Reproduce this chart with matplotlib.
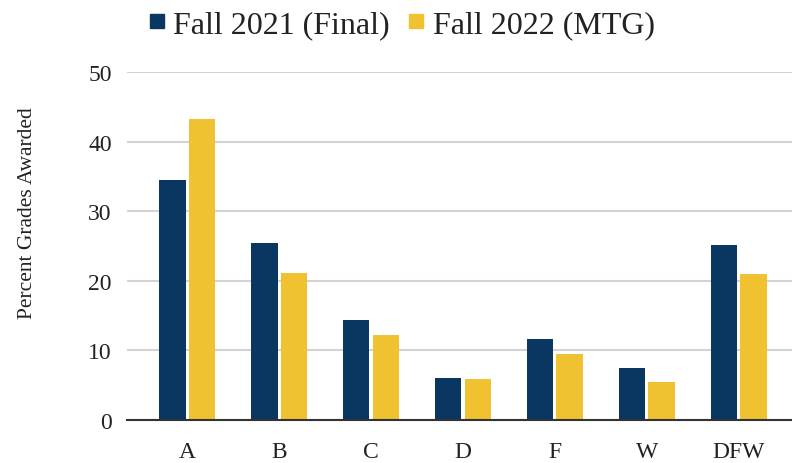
import numpy as np
import matplotlib.pyplot as plt
from matplotlib.lines import Line2D

# grade categories and percent of grades awarded
grades = ['A', 'B', 'C', 'D', 'F', 'W', 'DFW']
fall_2021 = [34.5, 25.4, 14.4, 6.1, 11.6, 7.5, 25.2]
fall_2022 = [43.2, 21.1, 12.2, 5.9, 9.5, 5.5, 21.0]
series_names = ['Fall 2021 (Final)', 'Fall 2022 (MTG)']
yticks = [0, 10, 20, 30, 40, 50]

NAVY = '#0a3761'
GOLD = '#f0c232'

plt.rcParams['font.family'] = ['Liberation Serif', 'DejaVu Serif']

fig = plt.figure(figsize=(7.92, 4.64), dpi=100)
ax = fig.add_axes([0.1604, 0.0927, 0.8396, 0.75])

x = np.arange(len(grades))
w = 0.287
off = 0.161
ax.bar(x - off, fall_2021, width=w, color=NAVY, zorder=3)
ax.bar(x + off, fall_2022, width=w, color=GOLD, zorder=3)

ax.set_xlim(-0.655, 6.58)
ax.set_ylim(0, 50)
ax.set_yticks(yticks)
ax.set_xticks(x)
ax.set_xticklabels(grades, fontsize=17, color='#222222')
ax.tick_params(axis='y', labelsize=17, length=0, pad=11, labelcolor='#222222')
ax.tick_params(axis='x', length=0, pad=15)

ax.grid(axis='y', color='#d3d3d3', linewidth=1.5, zorder=0)
for s in ['top', 'right', 'left']:
    ax.spines[s].set_visible(False)
ax.spines['bottom'].set_color('#333333')
ax.spines['bottom'].set_linewidth(1.5)
ax.spines['bottom'].set_zorder(4)

# y label sits a bit above the axis centre in the original
fig.text(0.035, 0.54, 'Percent Grades Awarded', rotation=90, fontsize=15.5,
         color='#222222', ha='center', va='center')

handles = [Line2D([], [], marker='s', linestyle='', markersize=10, color=c)
           for c in (NAVY, GOLD)]
fig.legend(handles, series_names, loc='upper center', bbox_to_anchor=(0.508, 1.038),
           ncol=2, frameon=False, fontsize=23, handlelength=0.45, handletextpad=0.3,
           columnspacing=0.6, labelcolor='#222222')

fig.savefig('out.png', dpi=100)
